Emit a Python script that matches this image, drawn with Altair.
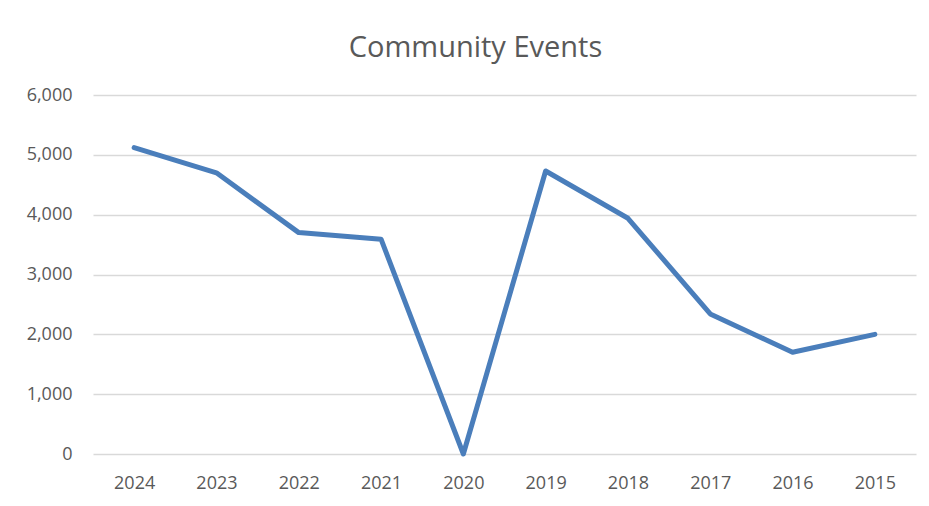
import altair as alt
import pandas as pd

years = ["2024", "2023", "2022", "2021", "2020", "2019", "2018", "2017", "2016", "2015"]
events = [5120, 4700, 3700, 3590, 0, 4730, 3940, 2340, 1700, 2000]

df = pd.DataFrame({"Year": years, "Events": events})

text_color = "#595959"
font = "Open Sans"

chart = (
    alt.Chart(df)
    .mark_line(color="#4a7ebb", strokeWidth=5, strokeCap="round", strokeJoin="round")
    .encode(
        x=alt.X("Year:O", sort=years,
                scale=alt.Scale(type="point", padding=0.5),
                axis=alt.Axis(title=None, labelAngle=0, ticks=False, domain=False,
                              labelPadding=20, labelFontSize=18, labelColor=text_color,
                              labelFont=font, grid=False)),
        y=alt.Y("Events:Q",
                scale=alt.Scale(domain=[0, 6000], nice=False),
                axis=alt.Axis(title=None, values=[0, 1000, 2000, 3000, 4000, 5000, 6000],
                              format=",d", ticks=False, domain=False, labelPadding=21,
                              labelFontSize=18, labelColor=text_color, labelFont=font,
                              gridColor="#d9d9d9", gridWidth=1.5)),
    )
    .properties(
        width=823,
        height=359,
        padding={"left": 85, "top": 87, "right": 5, "bottom": 44},
        autosize=alt.AutoSizeParams(type="none"),
        title=alt.TitleParams("Community Events", fontSize=29, font=font, color=text_color,
                              fontWeight="normal", anchor="middle", dx=-29, offset=23),
    )
    .configure(background="white")
    .configure_view(strokeWidth=0)
)

chart.save("out.html", embed_options={"renderer": "svg", "actions": False})
